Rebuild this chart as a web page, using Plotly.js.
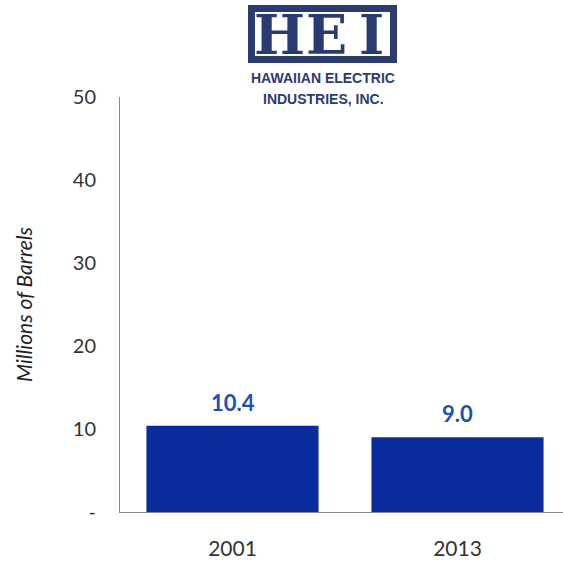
<!DOCTYPE html>
<html>
<head>
<meta charset="utf-8">
<script src="https://cdn.plot.ly/plotly-3.0.1.min.js"></script>
<style>html,body{margin:0;padding:0;background:#fff;}#chart{width:563px;height:561px;}</style>
</head>
<body>
<div id="chart"></div>
<script>
// Data
const categories = ['2001', '2013'];
const barrels = [10.4, 9.0];
const labels = ['10.4', '9.0'];
const yTickVals = [0, 10, 20, 30, 40, 50];
const yTickText = ['-', '10', '20', '30', '40', '50'];
const yTitle = 'Millions of Barrels';
const logoLetters = ['H', 'E', 'I'];
const logoLines = ['HAWAIIAN ELECTRIC', 'INDUSTRIES, INC.'];

// Geometry helpers (plot area: x 120..563, y 97..512)
const L = 120, R = 563, T = 97, B = 512;
const px = x => (x - L) / (R - L);
const py = y => (B - y) / (B - T);

const navy = '#2a3b72';

const annotations = categories.map((c, i) => ({
  x: i, y: barrels[i], xref: 'x', yref: 'y',
  text: '<b>' + labels[i] + '</b>', showarrow: false, yanchor: 'bottom', yshift: 8,
  font: {family: 'Lato, sans-serif', size: 22, color: '#1f4fb8'}
}));

const letterX = [279, 326, 371];
logoLetters.forEach((t, i) => annotations.push({
  x: px(letterX[i]), y: py(35), xref: 'paper', yref: 'paper',
  text: '<b>' + t + '</b>', showarrow: false, xanchor: 'center', yanchor: 'middle',
  font: {family: 'DejaVu Serif, serif', size: 54, color: navy}
}));
annotations.push({
  x: px(323), y: py(78), xref: 'paper', yref: 'paper', text: '<b>' + logoLines[0] + '</b>',
  showarrow: false, xanchor: 'center', yanchor: 'middle',
  font: {family: 'Liberation Sans, Arial, sans-serif', size: 14, color: navy}
});
annotations.push({
  x: px(323), y: py(99), xref: 'paper', yref: 'paper', text: '<b>' + logoLines[1] + '</b>',
  showarrow: false, xanchor: 'center', yanchor: 'middle',
  font: {family: 'Liberation Sans, Arial, sans-serif', size: 14, color: navy}
});

const shapes = [{
  type: 'rect', xref: 'paper', yref: 'paper',
  x0: px(251.5), x1: px(393.5), y0: py(59.5), y1: py(8.5),
  line: {color: navy, width: 7}, fillcolor: 'rgba(0,0,0,0)'
}];

const trace = {
  type: 'bar', x: categories, y: barrels,
  marker: {color: '#0a2b9c', line: {width: 0}},
  width: 0.765, hoverinfo: 'skip'
};

const layout = {
  width: 563, height: 561,
  margin: {l: L, r: 563 - R, t: T, b: 561 - B},
  paper_bgcolor: '#fff', plot_bgcolor: '#fff',
  showlegend: false,
  font: {family: 'Lato, sans-serif', color: '#333'},
  xaxis: {
    type: 'category', range: [-0.5, -0.5 + (R - L) / 225],
    showline: true, linecolor: '#8a8a8a', linewidth: 1,
    showgrid: false, zeroline: false,
    ticks: 'outside', ticklen: 18, tickcolor: 'rgba(0,0,0,0)',
    tickfont: {size: 21, color: '#333'}
  },
  yaxis: {
    range: [0, 50], tickvals: yTickVals, ticktext: yTickText,
    showline: true, linecolor: '#8a8a8a', linewidth: 1,
    showgrid: false, zeroline: false,
    ticks: 'outside', ticklen: 19, tickcolor: 'rgba(0,0,0,0)',
    tickfont: {size: 20, color: '#333'},
    title: {text: yTitle, standoff: 34, font: {size: 21, color: '#222', style: 'italic'}}
  },
  annotations: annotations,
  shapes: shapes
};

Plotly.newPlot('chart', [trace], layout, {staticPlot: true, displayModeBar: false});
</script>
</body>
</html>
